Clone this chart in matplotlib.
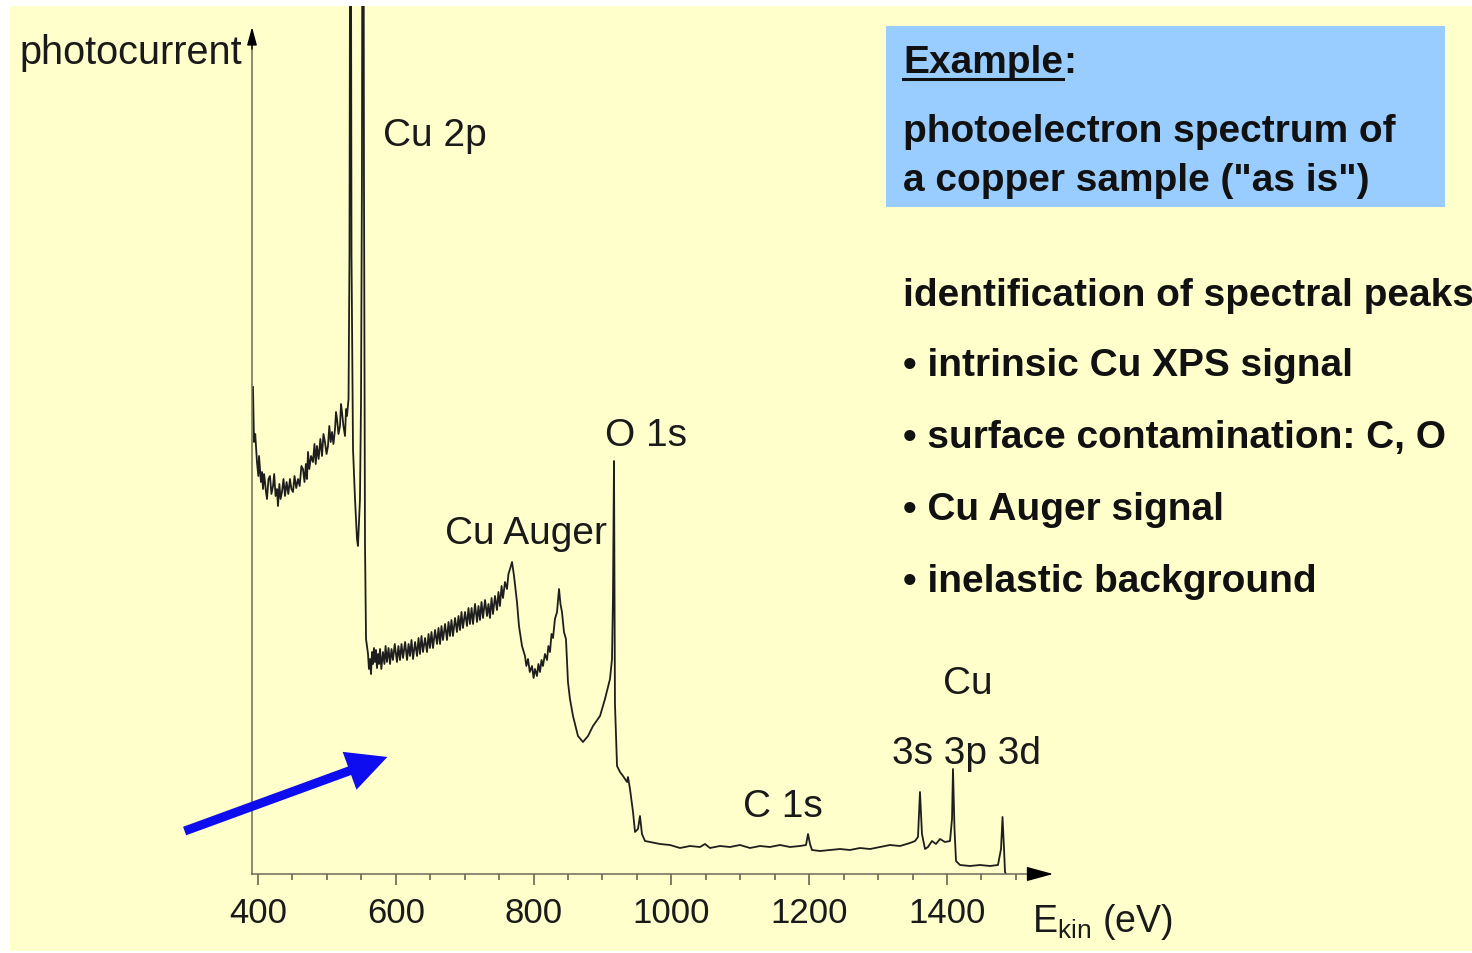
import matplotlib
matplotlib.use('Agg')
import matplotlib.pyplot as plt
from matplotlib.patches import Rectangle, FancyArrowPatch
from matplotlib.lines import Line2D

plt.rcParams['font.family'] = ['Liberation Sans', 'DejaVu Sans']
plt.rcParams['mathtext.fontset'] = 'custom'
plt.rcParams['mathtext.rm'] = 'Liberation Sans'
plt.rcParams['mathtext.it'] = 'Liberation Sans'

# XPS survey of a copper sample, kinetic energy (eV) vs photocurrent (arb. units)
energy = [
    392.7, 394.2, 396.0, 398.5, 400.5, 401.5, 402.9, 404.3, 405.8, 407.3,
    408.8, 410.2, 411.6, 413.1, 415.2, 417.4, 419.5, 421.8, 423.5, 425.5,
    427.6, 429.0, 431.0, 432.8, 434.8, 437.0, 439.2, 441.5, 444.0, 446.4,
    448.5, 450.8, 453.0, 455.5, 458.1, 460.5, 463.0, 465.3, 467.5, 469.5,
    471.1, 472.6, 474.5, 477.0, 479.8, 482.0, 483.8, 485.6, 488.0, 490.5,
    492.9, 495.0, 497.2, 499.5, 501.6, 503.5, 505.5, 507.4, 509.5, 511.8,
    513.2, 514.7, 516.8, 519.0, 520.5, 521.9, 524.0, 526.3, 527.8, 529.2,
    # Cu 2p doublet
    531.4, 532.8, 534.3, 535.7, 537.9, 540.8, 543.7, 545.1, 548.0, 549.5,
    550.9, 552.4, 553.8, 555.3, 556.8,
    # inelastic background
    559.7, 561.0, 562.6, 564.0, 565.5, 566.9, 568.3, 569.8, 571.2, 572.7,
    574.2, 575.6, 577.1, 579.0, 581.4, 583.5, 585.2, 587.2, 589.5, 591.6,
    593.8, 595.9, 598.5, 601.7, 603.8, 606.1, 608.3, 610.5, 613.5, 616.3,
    618.5, 620.6, 622.8, 625.0, 628.0, 630.8, 633.0, 635.1, 637.3, 639.5,
    642.5, 645.3, 647.5, 649.6, 651.8, 654.0, 657.0, 659.8, 662.0, 664.2,
    666.3, 668.5, 671.5, 674.3, 676.5, 678.7, 680.8, 683.0, 686.0, 688.8,
    691.0, 693.2, 695.3, 697.5, 700.5, 703.3, 705.5, 707.7, 710.0, 712.1,
    715.0, 717.9, 720.0, 722.2, 724.4, 726.6, 729.5, 732.4, 734.5, 736.7,
    739.0, 741.1, 744.0, 746.9, 749.0, 751.2, 753.5, 755.6, 758.5, 761.4,
    763.5, 765.8,
    # Cu Auger
    768.7, 771.6, 775.9, 778.8, 783.2, 787.5, 789.5, 791.9, 794.5, 797.7,
    800.0, 802.0, 804.9, 807.0, 809.3, 811.5, 813.6, 816.5, 819.5, 821.5,
    823.8, 826.0, 828.2, 831.0, 834.0, 836.9, 839.0, 841.2, 844.1, 847.0,
    849.9, 852.8, 857.2, 864.4, 871.7, 879.0, 886.2, 896.4, 903.6, 910.9,
    913.8,
    # O 1s
    915.2, 916.7, 918.1, 921.1, 925.4, 929.8, 935.6, 937.0, 939.9, 944.3,
    947.2, 951.5, 954.4, 957.3, 961.7, 968.9,
    # flat high-energy tail, C 1s
    983.5, 998.0, 1012.5, 1027.0, 1041.5, 1048.8, 1056.0, 1070.5, 1085.1, 1099.6,
    1114.1, 1128.6, 1143.1, 1157.6, 1172.1, 1186.7, 1195.4, 1198.3, 1201.2, 1204.1,
    1215.7, 1230.2, 1244.7, 1259.2, 1273.7, 1288.3, 1302.8, 1317.3, 1331.8, 1346.3,
    # Cu 3s, 3p, 3d
    1353.6, 1357.9, 1360.8, 1363.7, 1368.1, 1372.4, 1378.2, 1384.0, 1389.9, 1397.1,
    1404.4, 1407.3, 1408.7, 1410.9, 1413.1, 1418.9, 1433.4, 1447.9, 1462.4, 1474.0,
    1478.4, 1480.6, 1482.8, 1484.2, 1485.6,
]
counts = [
    487, 432, 440, 412, 398, 418, 405, 392, 402, 385,
    400, 392, 382, 375, 395, 398, 380, 388, 400, 378,
    385, 368, 390, 375, 382, 395, 378, 392, 380, 395,
    385, 382, 398, 386, 395, 388, 408, 405, 392, 410,
    395, 422, 405, 418, 412, 430, 410, 428, 415, 435,
    418, 440, 432, 420, 428, 448, 432, 442, 430, 445,
    462, 455, 440, 448, 470, 462, 448, 438, 465, 458,
    475, 620, 1200, 620, 425, 375, 335, 328, 375, 470,
    700, 1400, 700, 330, 235,
    220, 205, 215, 200, 222, 210, 226, 212, 224, 206,
    220, 210, 225, 205, 222, 210, 228, 212, 226, 210,
    225, 214, 230, 212, 228, 214, 230, 216, 232, 214,
    230, 218, 234, 215, 232, 218, 236, 220, 238, 222,
    236, 222, 240, 226, 242, 226, 244, 230, 246, 230,
    248, 234, 250, 234, 252, 238, 254, 238, 256, 242,
    258, 244, 262, 246, 262, 248, 266, 250, 266, 250,
    270, 252, 268, 254, 272, 256, 274, 258, 270, 256,
    276, 260, 278, 264, 282, 268, 288, 276, 292, 285,
    300, 305,
    312, 298, 272, 248, 228, 218, 208, 215, 202, 208,
    196, 205, 198, 210, 202, 214, 208, 220, 214, 228,
    222, 240, 236, 255, 262, 285, 270, 262, 242, 235,
    192, 175, 158, 138, 132, 138, 148, 158, 175, 195,
    215,
    275, 413, 170, 108, 102, 98, 92, 97, 85, 62,
    42, 45, 58, 40, 33, 32,
    30, 29, 26, 28, 27, 30, 26, 28, 27, 29,
    26, 28, 27, 29, 27, 28, 29, 40, 30, 24,
    23, 24, 25, 24, 26, 25, 27, 29, 28, 31,
    33, 37, 82, 40, 25, 27, 33, 30, 35, 32,
    33, 55, 105, 45, 13, 9, 8, 9, 8, 9,
    25, 57, 25, 2, 0,
]

major_ticks = [400, 600, 800, 1000, 1200, 1400]
minor_ticks = [450, 500, 550, 650, 700, 750, 850, 900, 950, 1050, 1100, 1150,
               1250, 1300, 1350, 1450, 1500]

box_lines = ['photoelectron spectrum of', 'a copper sample ("as is")']
heading = 'identification of spectral peaks'
bullet_items = ['intrinsic Cu XPS signal', 'surface contamination: C, O',
                'Cu Auger signal', 'inelastic background']

W, H = 1472, 954


def fpx(x, y):
    # image pixel (from top-left) -> figure fraction
    return x / W, 1 - y / H


fig = plt.figure(figsize=(W / 100, H / 100), dpi=100, facecolor='white')
fig.add_artist(Rectangle(fpx(10, 952), 1462 / W, 945 / H, transform=fig.transFigure,
                         facecolor='#FFFFCC', edgecolor='none', zorder=0))

ax = fig.add_axes([252 / W, 1 - 875 / H, (1040 - 252) / W, 868 / H])
ax.set_facecolor('none')
xmin, xmax = 391.3, 1535.0
ax.set_xlim(xmin, xmax)
ax.set_ylim(0, 868)

ax.plot(energy, counts, color='#1e1e1e', lw=1.3)

for s in ax.spines.values():
    s.set_visible(False)
ax.set_yticks([])
ax.set_xticks(major_ticks)
ax.set_xticks(minor_ticks, minor=True)
ax.tick_params(axis='x', which='major', length=8, width=1.1, color='#5a5a48',
               labelsize=25, pad=8, labelcolor='#1a1a1a')
ax.tick_params(axis='x', which='minor', length=4.5, width=1.1, color='#5a5a48')

# axis lines with arrow heads
axis_col = '#6b6b58'
ax.plot([xmin, 1540], [0, 0], color=axis_col, lw=1.1, clip_on=False)
ax.plot([xmin, xmin], [0, 835], color=axis_col, lw=1.1, clip_on=False)
ax.annotate('', xy=(1554, 0), xytext=(1530, 0), annotation_clip=False,
            arrowprops=dict(arrowstyle='-|>,head_length=1.65,head_width=0.45',
                            color='black', lw=1, shrinkA=0, shrinkB=0, mutation_scale=10))
ax.annotate('', xy=(xmin, 847), xytext=(xmin, 825), annotation_clip=False,
            arrowprops=dict(arrowstyle='-|>,head_length=1.1,head_width=0.3',
                            color='black', lw=1, shrinkA=0, shrinkB=0, mutation_scale=10))

# peak labels
lab = dict(fontsize=28, color='#1a1a1a', va='baseline')
ax.text(581.4, 729, 'Cu 2p', **lab)
ax.text(671.4, 331, 'Cu Auger', **lab)
ax.text(903.6, 429, 'O 1s', **lab)
ax.text(1103.9, 58, 'C 1s', **lab)
ax.text(1394.2, 181, 'Cu', **lab)
ax.text(1320.2, 111, '3s 3p 3d', **lab)

fig.text(*fpx(242, 64), 'photocurrent', ha='right', va='baseline', fontsize=28.5, color='#1a1a1a')
fig.text(*fpx(1032, 932), r'E$_{\mathrm{kin}}$ (eV)', ha='left', va='baseline',
         fontsize=27, color='#1a1a1a')

# blue pointer arrow
fig.add_artist(FancyArrowPatch(fpx(182, 833), fpx(390, 757), transform=fig.transFigure,
                               arrowstyle='simple,head_length=2.9,head_width=2.9,tail_width=0.65',
                               mutation_scale=10, color='#0d0df0', lw=0))

# info box
fig.add_artist(Rectangle(fpx(886, 208), (1445 - 886) / W, (208 - 27) / H,
                         transform=fig.transFigure, facecolor='#99CCFF', edgecolor='none', zorder=1))
bold = dict(fontsize=28, fontweight='bold', color='#111111', va='baseline', zorder=3)
t_ex = fig.text(*fpx(903, 73), 'Example', **bold)
fig.canvas.draw()
bb = t_ex.get_window_extent()
fig.text(bb.x1 / W, 1 - 73 / H, ':', **bold)
fig.add_artist(Line2D([bb.x0 / W, bb.x1 / W], [1 - 80 / H, 1 - 80 / H],
                      transform=fig.transFigure, color='#111111', lw=2.2, zorder=3))
for i, line in enumerate(box_lines):
    fig.text(*fpx(903, 142 + 49 * i), line, **bold)

fig.text(*fpx(903, 306), heading, **bold)
for i, item in enumerate(bullet_items):
    fig.text(*fpx(903, 376 + 72 * i), '\u2022 ' + item, **bold)

fig.savefig('out.png', dpi=100, facecolor=fig.get_facecolor())
